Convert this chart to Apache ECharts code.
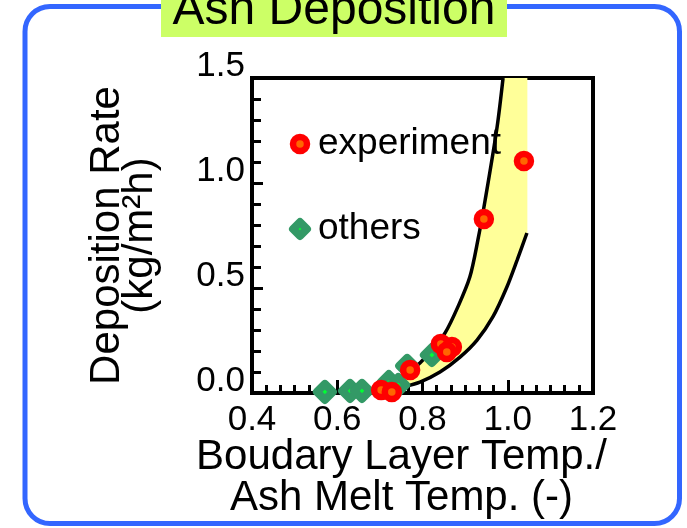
<!DOCTYPE html>
<html>
<head>
<meta charset="utf-8">
<script src="https://cdn.jsdelivr.net/npm/echarts@6/dist/echarts.min.js"></script>
<style>
  html, body { margin: 0; padding: 0; background: #fff; }
  #chart { width: 687px; height: 528px; }
</style>
</head>
<body>
<div id="chart"></div>
<script>
// measured points, x = boundary layer temp / ash melt temp, y = kg/m2h
const experimentX = [1.038, 0.944, 0.843, 0.869, 0.857, 0.771, 0.703, 0.728]
const experimentY = [1.105, 0.829, 0.233, 0.219, 0.195, 0.110, 0.014, 0.005]

const othersX = [0.571, 0.630, 0.658, 0.721, 0.743, 0.764, 0.822]
const othersY = [0.005, 0.010, 0.010, 0.052, 0.038, 0.129, 0.181]

// upper (left) boundary curve
const upperX = [0.653, 0.689, 0.724, 0.759, 0.794, 0.822, 0.853, 0.883, 0.911, 0.930, 0.947, 0.975, 0.989]
const upperY = [0.005, 0.014, 0.038, 0.086, 0.143, 0.205, 0.286, 0.410, 0.552, 0.729, 0.919, 1.267, 1.500]

// lower (right) boundary curve
const lowerX = [0.665, 0.712, 0.754, 0.794, 0.841, 0.888, 0.928, 0.965, 0.998, 1.022, 1.045]
const lowerY = [0.005, 0.010, 0.029, 0.052, 0.100, 0.171, 0.252, 0.362, 0.505, 0.633, 0.762]

const bandRightX = 1.046

const xMin = 0.4
const xMax = 1.2
const yMin = 0
const yMax = 1.5

const FONT = 'Liberation Sans, Arial, Helvetica, sans-serif'

const circleStyle = {
  color: '#ff6600',
  borderColor: '#ff0000',
  borderWidth: 6.5,
  opacity: 1
}

const diamondStyle = {
  color: '#00ff33',
  borderColor: '#339966',
  borderWidth: 8,
  borderJoin: 'round',
  opacity: 1
}

const zip = (xs, ys) => xs.map((x, i) => [x, ys[i]])

const buildBand = () => {
  let pts = zip(upperX, upperY)
  pts.push([bandRightX, yMax])
  pts.push([bandRightX, lowerY[lowerY.length - 1]])
  let lower = zip(lowerX, lowerY).reverse()
  return pts.concat(lower)
}

const getOption = () => {
  const bandPts = buildBand()

  return {
    animation: false,
    backgroundColor: '#fff',
    textStyle: { fontFamily: FONT },
    graphic: [
      {
        type: 'rect',
        shape: { x: 25, y: 6.5, width: 654.5, height: 517, r: 25 },
        style: { fill: 'none', stroke: '#3366ff', lineWidth: 5 },
        z: 100
      },
      {
        type: 'rect',
        shape: { x: 161, y: 0, width: 346, height: 37 },
        style: { fill: '#ccff66' },
        z: 101
      },
      {
        type: 'text',
        x: 334,
        y: 11,
        style: {
          text: 'Ash Deposition',
          font: '48px ' + FONT,
          fill: '#000',
          align: 'center',
          verticalAlign: 'middle'
        },
        z: 102
      }
    ],
    grid: {
      left: 252,
      right: 94,
      top: 78,
      bottom: 135,
      outerBoundsMode: 'none',
      show: true,
      borderColor: '#000',
      borderWidth: 4,
      backgroundColor: 'transparent'
    },
    legend: {
      orient: 'vertical',
      left: 289,
      top: 125.5,
      padding: 0,
      itemWidth: 14,
      itemHeight: 14,
      itemGap: 48,
      data: [
        { name: 'experiment', icon: 'circle', itemStyle: circleStyle },
        { name: 'others', icon: 'diamond', itemStyle: diamondStyle }
      ],
      textStyle: {
        fontSize: 37,
        color: '#000',
        fontFamily: FONT,
        padding: [0, 0, 12, 6]
      }
    },
    xAxis: {
      type: 'value',
      min: xMin,
      max: xMax,
      interval: 0.2,
      name: 'Boudary Layer Temp./\nAsh Melt Temp. (-)',
      nameLocation: 'middle',
      nameGap: 44,
      nameMoveOverlap: false,
      nameTextStyle: {
        fontSize: 42,
        lineHeight: 41,
        color: '#000',
        fontFamily: FONT,
        padding: [0, 42, 0, 0]
      },
      axisLine: { lineStyle: { color: '#000', width: 4 } },
      axisTick: { inside: true, length: 13, lineStyle: { color: '#000', width: 3 } },
      minorTick: { show: true, splitNumber: 6, length: 8, lineStyle: { color: '#000', width: 3 } },
      splitLine: { show: false },
      axisLabel: {
        fontSize: 35,
        color: '#000',
        margin: 10,
        fontFamily: FONT,
        formatter: v => v.toFixed(1)
      }
    },
    yAxis: {
      type: 'value',
      min: yMin,
      max: yMax,
      interval: 0.5,
      name: 'Deposition Rate\n(kg/m²h)',
      nameLocation: 'middle',
      nameGap: 95,
      nameMoveOverlap: false,
      nameTextStyle: {
        fontSize: 42,
        lineHeight: 33,
        color: '#000',
        fontFamily: FONT
      },
      axisLine: { lineStyle: { color: '#000', width: 4 } },
      axisTick: { inside: true, length: 11, lineStyle: { color: '#000', width: 3 } },
      minorTick: { show: true, splitNumber: 5, length: 9, lineStyle: { color: '#000', width: 3 } },
      splitLine: { show: false },
      axisLabel: {
        fontSize: 35,
        lineHeight: 24,
        verticalAlign: 'bottom',
        color: '#000',
        margin: 7,
        fontFamily: FONT,
        formatter: v => v.toFixed(1)
      }
    },
    series: [
      {
        name: 'band',
        type: 'custom',
        z: 1,
        silent: true,
        data: [[0.8, 0.5]],
        renderItem: (params, api) => ({
          type: 'polygon',
          shape: { points: bandPts.map(p => api.coord(p)) },
          style: { fill: '#ffff99' }
        })
      },
      {
        name: 'upper',
        type: 'line',
        z: 2,
        smooth: 0.3,
        showSymbol: false,
        silent: true,
        data: zip(upperX, upperY),
        lineStyle: { color: '#000', width: 3.5 }
      },
      {
        name: 'lower',
        type: 'line',
        z: 2,
        smooth: 0.3,
        showSymbol: false,
        silent: true,
        data: zip(lowerX, lowerY),
        lineStyle: { color: '#000', width: 3.5 }
      },
      {
        name: 'others',
        type: 'scatter',
        z: 3,
        symbol: 'diamond',
        symbolSize: 16,
        data: zip(othersX, othersY),
        itemStyle: diamondStyle
      },
      {
        name: 'experiment',
        type: 'scatter',
        z: 4,
        symbol: 'circle',
        symbolSize: 14,
        data: zip(experimentX, experimentY),
        itemStyle: circleStyle
      }
    ]
  }
}

const chart = echarts.init(document.getElementById('chart'))
chart.setOption(getOption())
</script>
</body>
</html>
